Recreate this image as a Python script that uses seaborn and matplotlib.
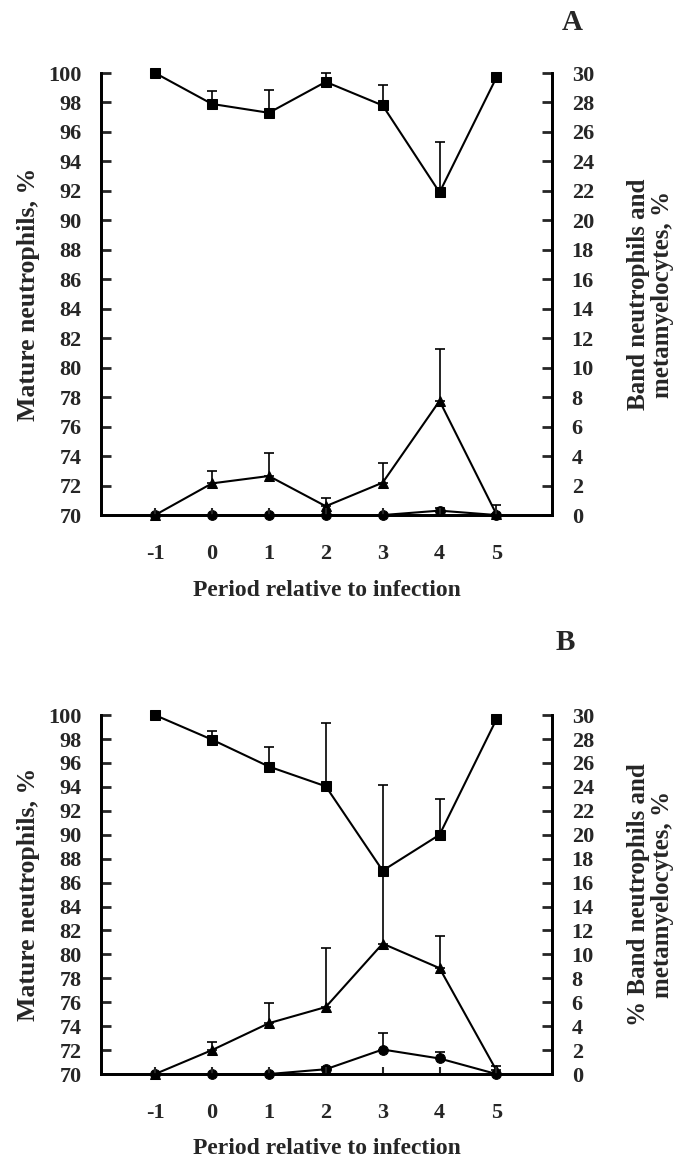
import numpy as np
import matplotlib.pyplot as plt
import seaborn as sns

# data
periods = [-1, 0, 1, 2, 3, 4, 5]

# panel A
mature_a = [100, 97.9, 97.3, 99.4, 97.8, 91.9, 99.7]
mature_a_err = [0, 0.9, 1.55, 0.6, 1.4, 3.45, 0]
band_a = [0, 2.15, 2.65, 0.6, 2.2, 7.75, 0.05]
band_a_err = [0, 0.85, 1.55, 0.55, 1.35, 3.5, 0.6]
meta_a = [0, 0, 0, 0, 0, 0.3, 0]
meta_a_err = [0, 0, 0, 0, 0, 0.2, 0]

# panel B
mature_b = [100, 97.95, 95.7, 94.05, 87.0, 90.0, 99.65]
mature_b_err = [0, 0.7, 1.6, 5.25, 7.15, 2.95, 0]
band_b = [0, 2.0, 4.25, 5.6, 10.9, 8.85, 0.3]
band_b_err = [0, 0.7, 1.65, 4.9, 6.1, 2.65, 0.4]
meta_b = [0, 0, 0, 0.4, 2.05, 1.3, 0]
meta_b_err = [0, 0, 0, 0.2, 1.35, 0.55, 0]

left_ticks = list(range(70, 101, 2))
right_ticks = list(range(0, 31, 2))

sns.set_style("ticks")
plt.rcParams["font.family"] = ["Liberation Serif", "DejaVu Serif"]
plt.rcParams["font.weight"] = "bold"
plt.rcParams["axes.labelweight"] = "bold"

fig = plt.figure(figsize=(6.92, 11.59), dpi=100)


def draw_series(ax, y, err, marker, ms):
    ax.errorbar(periods, y, yerr=[np.zeros(len(err)), err], fmt="none",
                ecolor="black", elinewidth=1.2, capsize=3.5, capthick=1.2,
                clip_on=False, zorder=3)
    sns.lineplot(x=periods, y=y, ax=ax, color="black", linewidth=1.5,
                 marker=marker, markersize=ms, markeredgecolor="black",
                 markerfacecolor="black", clip_on=False, zorder=4)


def panel(rect, mature, mature_err, band, band_err, meta, meta_err,
          right_label):
    ax = fig.add_axes(rect)
    ax2 = ax.twinx()

    draw_series(ax2, meta, meta_err, "o", 7)
    draw_series(ax2, band, band_err, "^", 7.5)
    draw_series(ax, mature, mature_err, "s", 7)

    ax.set_xlim(-1.95, 5.98)
    ax.set_ylim(70, 100)
    ax2.set_ylim(0, 30)
    ax.set_yticks(left_ticks)
    ax2.set_yticks(right_ticks)
    ax.set_xticks(periods)
    ax.set_xticklabels([str(p) for p in periods])

    for a in (ax, ax2):
        a.spines["top"].set_visible(False)
        for s in ("left", "right", "bottom"):
            a.spines[s].set_linewidth(2)
            a.spines[s].set_color("black")
        a.set_facecolor("none")
        a.grid(False)

    ax.tick_params(axis="y", direction="in", length=7, width=2,
                   labelsize=16, pad=14)
    ax2.tick_params(axis="y", direction="in", length=7, width=2,
                    labelsize=16, pad=14)
    ax.tick_params(axis="x", direction="in", length=5, width=1.5,
                   labelsize=16, pad=21)
    ax.set_zorder(ax2.get_zorder() + 1)

    ax.set_xlabel("Period relative to infection", fontsize=17,
                  fontweight="bold", labelpad=11)
    ax.set_ylabel("Mature neutrophils, %", fontsize=18.5,
                  fontweight="bold", labelpad=6)
    ax2.set_ylabel(right_label, fontsize=18, fontweight="bold",
                   labelpad=24, multialignment="center", linespacing=1.05)
    return ax


panel([0.146, 0.5556, 0.652, 0.3814], mature_a, mature_a_err, band_a,
      band_a_err, meta_a, meta_a_err,
      "Band neutrophils and\nmetamyelocytes, %")
panel([0.146, 0.0733, 0.652, 0.3097], mature_b, mature_b_err, band_b,
      band_b_err, meta_b, meta_b_err,
      "% Band neutrophils and\nmetamyelocytes, %")

fig.text(572 / 692, 1 - 22 / 1159, "A", fontsize=21, fontweight="bold",
         ha="center", va="center")
fig.text(565 / 692, 1 - 643 / 1159, "B", fontsize=21, fontweight="bold",
         ha="center", va="center")

fig.savefig("out.png", dpi=100)
